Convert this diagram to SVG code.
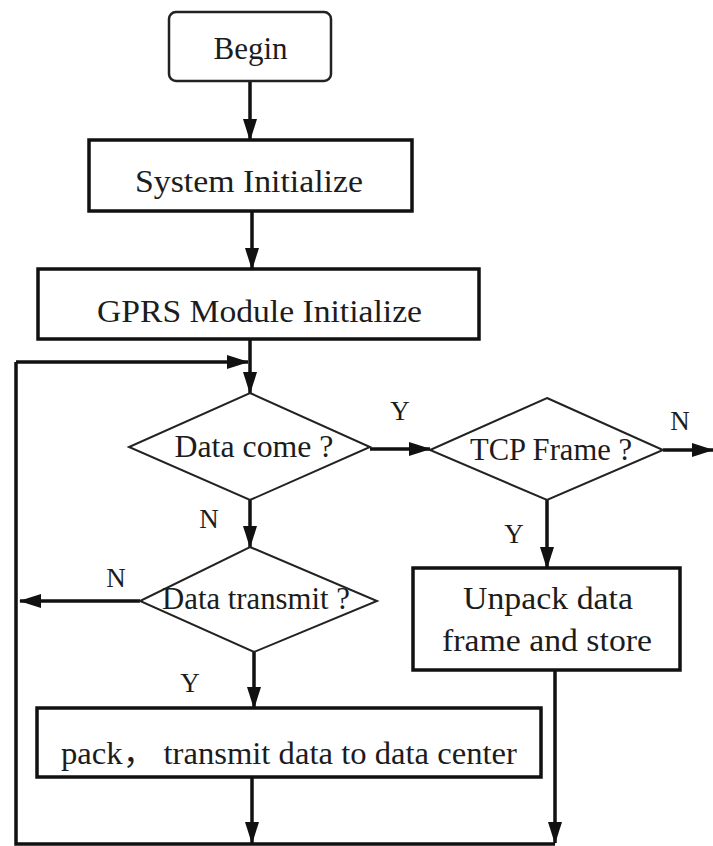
<svg xmlns="http://www.w3.org/2000/svg" width="713" height="846" viewBox="0 0 713 846">
  <defs>
    <marker id="arrow" markerUnits="userSpaceOnUse" markerWidth="22" markerHeight="14" refX="21" refY="7" orient="auto">
      <path d="M0,0 L22,7 L0,14 Z" fill="#111"/>
    </marker>
    <style>
      .box { fill: #fff; stroke: #111; stroke-width: 3.5; }
      .start { fill: #fff; stroke: #222; stroke-width: 2.5; }
      .dec { fill: #fff; stroke: #222; stroke-width: 2; }
      .txt { font-family: 'Liberation Serif', 'DejaVu Serif', serif; font-size: 31px; fill: #1c1c1c; text-anchor: middle; }
      .cjk { font-family: 'Liberation Serif', 'Noto Sans CJK SC', serif; }
      .lbl { font-family: 'Liberation Serif', 'DejaVu Serif', serif; font-size: 27px; fill: #1c1c1c; text-anchor: middle; }
      .wire { fill: none; stroke: #111; stroke-width: 3.5; }
      .wire-a { fill: none; stroke: #111; stroke-width: 3.5; marker-end: url(#arrow); }
    </style>
  </defs>
  <rect width="713" height="846" fill="#fff"/>

  <!-- connectors -->
  <g id="connectors">
    <line class="wire-a" x1="250" y1="81" x2="250" y2="140"/>
    <line class="wire-a" x1="252" y1="211" x2="252" y2="269"/>
    <line class="wire-a" x1="250" y1="339" x2="250" y2="393"/>
    <!-- return path along left and bottom edges -->
    <polyline class="wire" points="555,844 16,844 16,362"/>
    <line class="wire-a" x1="16" y1="362" x2="248" y2="362"/>
    <line class="wire-a" x1="370" y1="449" x2="430" y2="449"/>
    <line class="wire-a" x1="663" y1="450" x2="713" y2="450"/>
    <line class="wire-a" x1="250" y1="500" x2="250" y2="547"/>
    <line class="wire-a" x1="547" y1="500" x2="547" y2="568"/>
    <line class="wire-a" x1="140" y1="601" x2="20" y2="601"/>
    <line class="wire-a" x1="254" y1="652" x2="254" y2="708"/>
    <line class="wire-a" x1="252" y1="777" x2="252" y2="843"/>
    <line class="wire-a" x1="555" y1="670" x2="555" y2="843"/>
  </g>

  <!-- branch labels -->
  <g id="labels">
    <text class="lbl" x="400" y="420">Y</text>
    <text class="lbl" x="680" y="430">N</text>
    <text class="lbl" x="209" y="528">N</text>
    <text class="lbl" x="514" y="543">Y</text>
    <text class="lbl" x="116" y="587">N</text>
    <text class="lbl" x="190" y="692">Y</text>
  </g>

  <g id="begin">
    <rect class="start" x="169" y="12" width="162" height="69" rx="7"/>
    <text class="txt" x="250.5" y="59">Begin</text>
  </g>

  <g id="system-init">
    <rect class="box" x="89" y="140" width="323" height="71"/>
    <text class="txt" x="249" y="192" textLength="228" lengthAdjust="spacingAndGlyphs">System Initialize</text>
  </g>

  <g id="gprs-init">
    <rect class="box" x="38" y="269" width="441" height="70"/>
    <text class="txt" x="259.5" y="322" textLength="325" lengthAdjust="spacingAndGlyphs">GPRS Module Initialize</text>
  </g>

  <g id="data-come">
    <polygon class="dec" points="250,393 370,447 250,500 129,447"/>
    <text class="txt" x="254" y="457" textLength="159" lengthAdjust="spacingAndGlyphs">Data come ?</text>
  </g>

  <g id="tcp-frame">
    <polygon class="dec" points="547,398 663,450 547,500 430,450"/>
    <text class="txt" x="551" y="460" textLength="162" lengthAdjust="spacingAndGlyphs">TCP Frame ?</text>
  </g>

  <g id="data-transmit">
    <polygon class="dec" points="250,547 377,601 254,652 140,601"/>
    <text class="txt" x="256" y="609" textLength="188" lengthAdjust="spacingAndGlyphs">Data transmit ?</text>
  </g>

  <g id="unpack">
    <rect class="box" x="413" y="568" width="267" height="102"/>
    <text class="txt" x="548" y="609" textLength="170" lengthAdjust="spacingAndGlyphs">Unpack data</text>
    <text class="txt" x="547" y="651" textLength="210" lengthAdjust="spacingAndGlyphs">frame and store</text>
  </g>

  <g id="pack-transmit">
    <rect class="box" x="37" y="708" width="504" height="69"/>
    <text class="txt cjk" x="289" y="764" textLength="456" lengthAdjust="spacingAndGlyphs">pack， transmit data to data center</text>
  </g>
</svg>
